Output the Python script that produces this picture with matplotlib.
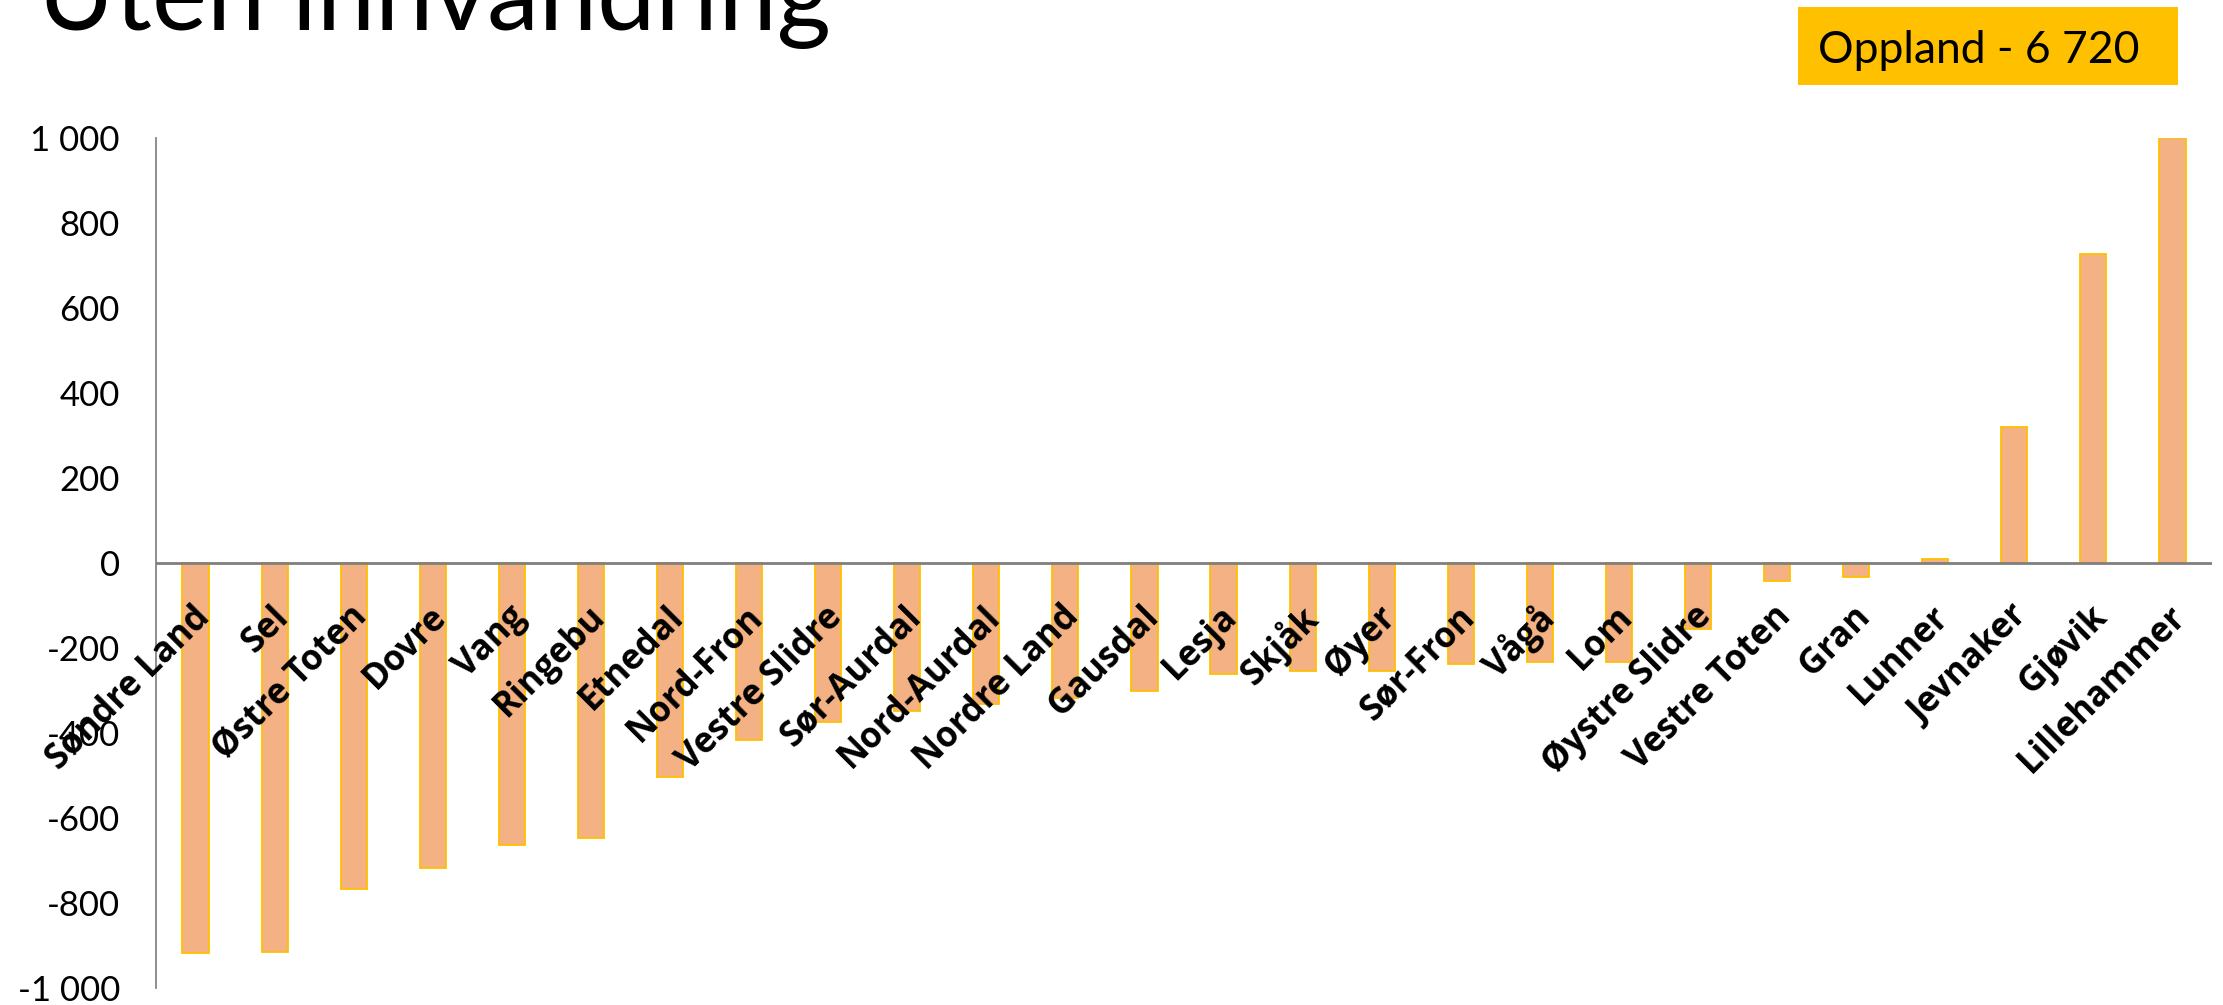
import numpy as np
import matplotlib.pyplot as plt
from matplotlib.ticker import FuncFormatter
from matplotlib.patches import Rectangle

# kommuner i Oppland, sortert etter endring
kommuner = ['Søndre Land', 'Sel', 'Østre Toten', 'Dovre', 'Vang', 'Ringebu',
            'Etnedal', 'Nord-Fron', 'Vestre Slidre', 'Sør-Aurdal', 'Nord-Aurdal',
            'Nordre Land', 'Gausdal', 'Lesja', 'Skjåk', 'Øyer', 'Sør-Fron',
            'Vågå', 'Lom', 'Øystre Slidre', 'Vestre Toten', 'Gran', 'Lunner',
            'Jevnaker', 'Gjøvik', 'Lillehammer']
endring = [-918, -915, -768, -718, -663, -646, -503, -416, -375, -348, -331,
           -317, -300, -260, -255, -255, -238, -234, -232, -156, -43, -32,
           10, 319, 727, 1000]
yticks = [-1000, -800, -600, -400, -200, 0, 200, 400, 600, 800, 1000]
tittel = 'Uten innvandring'
boks_tekst = 'Oppland - 6 720'

plt.rcParams['font.family'] = ['Lato', 'DejaVu Sans']

fig = plt.figure(figsize=(22.23, 10.05), dpi=100)
W, H = 2223, 1005
ax = fig.add_axes([156 / W, 1 - 988 / H, (2212 - 156) / W, (988 - 138) / H])

x = np.arange(len(kommuner))
ax.bar(x, endring, width=0.33, color='#F4B183', edgecolor='#FFC000',
       linewidth=1.3, zorder=2)
ax.axhline(0, color='#7f7f7f', linewidth=2, zorder=3)

ax.set_xlim(-0.5, len(kommuner) - 0.5)
ax.set_ylim(-1000, 1000)
ax.set_yticks(yticks)
ax.yaxis.set_major_formatter(FuncFormatter(lambda v, p: f'{int(v):,}'.replace(',', ' ')))
ax.tick_params(axis='y', length=0, pad=26, labelsize=25)
ax.set_xticks([])

for s in ['top', 'right', 'bottom']:
    ax.spines[s].set_visible(False)
ax.spines['left'].set_color('#868686')
ax.spines['left'].set_linewidth(1.3)

# kategorinavn skrått under nullinja
for i, navn in enumerate(kommuner):
    ax.annotate(navn, xy=(i, 0), xytext=(-4, -36), textcoords='offset pixels',
                ha='right', va='top', rotation=45, rotation_mode='anchor',
                fontsize=25, fontweight='bold', family=['Open Sans', 'DejaVu Sans'],
                zorder=4)

# tittel, kuttet i toppen
fig.text(38 / W, 1 - 30 / H, tittel, fontsize=75, fontweight='normal',
         va='baseline', ha='left')

# gul boks oppe til høyre
fig.patches.append(Rectangle((1798 / W, 1 - 85 / H), 380 / W, 78 / H,
                             transform=fig.transFigure, facecolor='#FFC000',
                             edgecolor='none'))
fig.text(1818 / W, 1 - 63 / H, boks_tekst, fontsize=32, va='baseline', ha='left')

fig.savefig('out.png', dpi=100)
